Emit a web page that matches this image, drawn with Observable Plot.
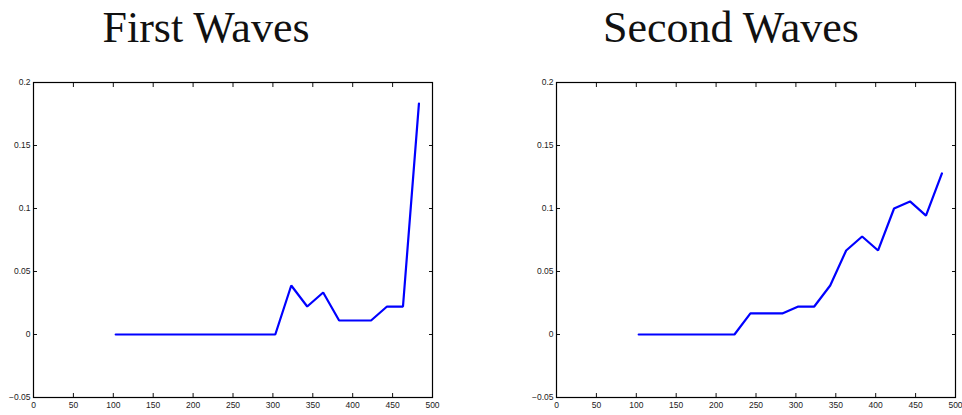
<!DOCTYPE html>
<html>
<head>
<meta charset="utf-8">
<script src="https://cdn.jsdelivr.net/npm/d3@7"></script>
<script src="https://cdn.jsdelivr.net/npm/@observablehq/plot@0.6"></script>
<style>
  html, body { margin: 0; padding: 0; background: #fff; }
  #root { position: relative; width: 962px; height: 415px; overflow: hidden; background: #fff; }
  .title { position: absolute; top: 6px; width: 400px; text-align: center;
           font-family: "Liberation Serif", "Times New Roman", serif; font-size: 44px;
           line-height: 44px; color: #111; white-space: nowrap; }
  .panel { position: absolute; top: 70px; }
  .panel svg { overflow: visible; }
</style>
</head>
<body>
<div id="root"></div>
<script>
const titles = ["First Waves", "Second Waves"];
const xValues = [103, 123, 143, 163, 183, 203, 223, 243, 263, 283, 303, 323, 343, 363, 383, 403, 423, 443, 463, 483];
const firstWaves = [0, 0, 0, 0, 0, 0, 0, 0, 0, 0, 0, 0.0389, 0.0222, 0.0333, 0.0111, 0.0111, 0.0111, 0.0222, 0.0222, 0.1833];
const secondWaves = [0, 0, 0, 0, 0, 0, 0, 0.0167, 0.0167, 0.0167, 0.0222, 0.0222, 0.0389, 0.0667, 0.0778, 0.0667, 0.1, 0.1056, 0.0944, 0.1278];
const xTicks = [0, 50, 100, 150, 200, 250, 300, 350, 400, 450, 500];
const yTicks = [-0.05, 0, 0.05, 0.1, 0.15, 0.2];
const yTickLabels = ["\u22120.05", "0", "0.05", "0.1", "0.15", "0.2"];

const root = document.getElementById("root");

function panel(values, opts) {
  const data = xValues.map((x, i) => ({x, y: values[i]}));
  const yFmt = v => yTickLabels[yTicks.findIndex(t => Math.abs(t - v) < 1e-9)];
  return Plot.plot({
    width: opts.width,
    height: 345,
    marginLeft: opts.marginLeft,
    marginRight: opts.marginRight,
    marginTop: 12,
    marginBottom: 18,
    style: {fontFamily: "'Liberation Sans', Arial, sans-serif", fontSize: "8.5px", color: "#222", background: "transparent"},
    x: {domain: [0, 500]},
    y: {domain: [-0.05, 0.2]},
    marks: [
      Plot.line(data, {x: "x", y: "y", stroke: "#0000ff", strokeWidth: 2.2, strokeLinejoin: "miter"}),
      Plot.axisX({anchor: "bottom", ticks: xTicks, tickSize: -4, tickPadding: 8, tickFormat: d => String(d), label: null, stroke: "#111"}),
      Plot.axisX({anchor: "top", ticks: xTicks, tickSize: -4, tickFormat: () => "", label: null, stroke: "#111"}),
      Plot.axisY({anchor: "left", ticks: yTicks, tickSize: -4, tickPadding: 7, tickFormat: yFmt, label: null, stroke: "#111"}),
      Plot.axisY({anchor: "right", ticks: yTicks, tickSize: -4, tickFormat: () => "", label: null, stroke: "#111"}),
      Plot.frame({stroke: "#000", strokeWidth: 1.2})
    ]
  });
}

const specs = [
  {values: firstWaves, left: 0, width: 480, marginLeft: 33, marginRight: 48, titleCenter: 206},
  {values: secondWaves, left: 480, width: 482, marginLeft: 76, marginRight: 7, titleCenter: 731}
];

specs.forEach((s, i) => {
  const t = document.createElement("div");
  t.className = "title";
  t.textContent = titles[i];
  t.style.left = (s.titleCenter - 200) + "px";
  root.appendChild(t);
  const p = document.createElement("div");
  p.className = "panel";
  p.style.left = s.left + "px";
  p.appendChild(panel(s.values, s));
  root.appendChild(p);
});
</script>
</body>
</html>
